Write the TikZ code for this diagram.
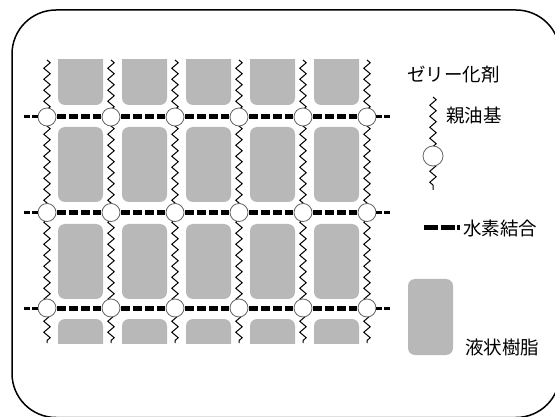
\documentclass[tikz,border=0pt]{standalone}
\usepackage{fontspec}
\newfontfamily\jpfont{Noto Sans CJK JP}
\usetikzlibrary{decorations.pathmorphing}

\begin{document}
\begin{tikzpicture}[x=1pt,y=-1pt,
  frame/.style={line width=1.5pt, rounded corners=44pt},
  chain/.style={decorate, decoration={zigzag, segment length=11pt, amplitude=3.2pt}, line width=1pt},
  head/.style={circle, draw=black!60, line width=0.8pt, fill=white, minimum size=18pt, inner sep=0pt},
  hbond/.style={line width=5pt, dash pattern=on 8.5pt off 3.3pt, shorten <=1pt, shorten >=1pt},
  hbondend/.style={line width=3pt, dash pattern=on 5.5pt off 2.5pt},
  resin/.style={fill=black!28, rounded corners=7pt},
  legtext/.style={font=\jpfont\fontsize{18.5}{20}\selectfont, inner sep=0pt, anchor=west}
]
\useasboundingbox (0,0) rectangle (555,417);

% outer frame
\draw[frame] (12,10) rectangle (560,417.5);

% liquid resin blocks, trimmed at the top and bottom of the network
\begin{scope}
  \clip (0,60) rectangle (555,343);
  \foreach \i in {0,...,4} {
    \foreach \ya/\yb in {29/105, 127/202, 224/299, 319/395} {
      \fill[resin] ({58+64*\i},\ya) rectangle ({103+64*\i},\yb);
    }
  }
\end{scope}

% lipophilic chains
\foreach \i in {0,...,5} {
  \draw[chain] ({47+64*\i},60) -- ({47+64*\i},343);
}

% polar heads at the crossings
\foreach \i in {0,...,5} {
  \foreach \j/\y in {0/117, 1/212.5, 2/308} {
    \node[head] (c\i\j) at ({47+64*\i},\y) {};
  }
}

% hydrogen bonds between neighbouring heads
\foreach \i [evaluate=\i as \k using int(\i+1)] in {0,...,4} {
  \foreach \j in {0,1,2} {
    \draw[hbond] (c\i\j) -- (c\k\j);
  }
}

% open bond ends on both sides
\foreach \j/\y in {0/117, 1/212.5, 2/308} {
  \coordinate (l\j) at (24,\y);
  \coordinate (r\j) at (391,\y);
  \draw[hbondend] (l\j) -- (c0\j);
  \draw[hbondend] (c5\j) -- (r\j);
}

% legend: gelling agent
\node[legtext] (tgel) at (407,75) {ゼリー化剤};
\coordinate (lc1) at (433,97);
\coordinate (lc2) at (433,190);
\draw[chain] (lc1) -- (lc2);
\node[head, minimum size=20pt] (lhead) at (433,156) {};
\node[legtext] (tlip) at (446,115) {親油基};

% legend: hydrogen bond
\coordinate (hb1) at (424,228);
\coordinate (hb2) at (460,228);
\draw[line width=5pt, dash pattern=on 14pt off 2.5pt] (hb1) -- (hb2);
\node[legtext] (thb) at (463,228) {水素結合};

% legend: liquid resin
\node[resin, minimum width=45pt, minimum height=76pt, inner sep=0pt] (lres) at (430.5,317) {};
\node[legtext] (tres) at (465,347) {液状樹脂};
\end{tikzpicture}
\end{document}
